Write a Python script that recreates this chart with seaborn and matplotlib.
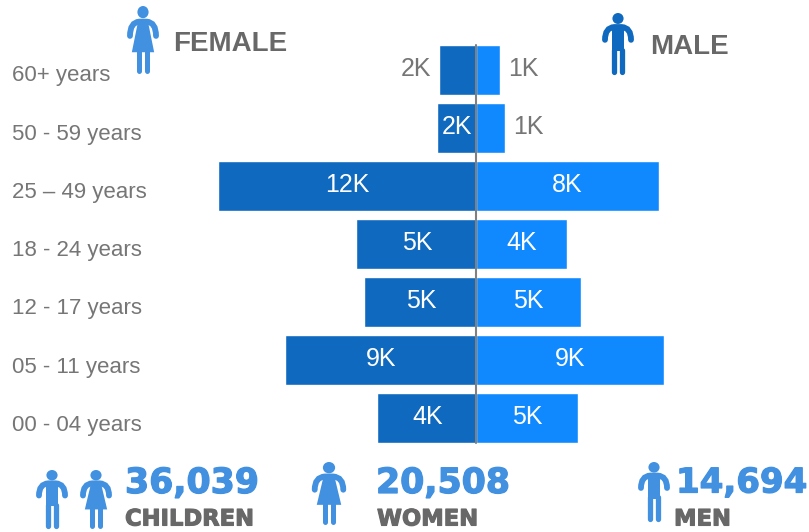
# Population pyramid by age group and sex
import pandas as pd
import matplotlib.pyplot as plt
import matplotlib.patches as mpatches
import matplotlib.patheffects as pe
from matplotlib.path import Path
import seaborn as sns

# Data
ages = ["60+ years", "50 - 59 years", "25 – 49 years", "18 - 24 years",
        "12 - 17 years", "05 - 11 years", "00 - 04 years"]
female = [1.66, 1.79, 11.75, 5.45, 5.1, 8.68, 4.5]
male = [1.09, 1.32, 8.3, 4.14, 4.77, 8.55, 4.63]
female_labels = ["2K", "2K", "12K", "5K", "5K", "9K", "4K"]
male_labels = ["1K", "1K", "8K", "4K", "5K", "9K", "5K"]
totals = ["36,039", "20,508", "14,694"]
total_names = ["CHILDREN", "WOMEN", "MEN"]

DARK = "#0F69BF"
BRIGHT = "#1089FF"
ICON = "#4290E0"
GREY = "#767676"
TITLE_GREY = "#686868"

sns.set_theme(style="white")
plt.rcParams["font.family"] = ["Liberation Sans", "DejaVu Sans"]

df = pd.DataFrame({
    "age": ages * 2,
    "value": [-v for v in female] + male,
    "sex": ["F"] * len(ages) + ["M"] * len(ages),
})

W, H = 809, 532
fig = plt.figure(figsize=(W / 100, H / 100), dpi=100)

# Chart axes fill the whole figure, limits chosen so zero sits on x=476
PX_PER_K = 22.0
ax = fig.add_axes([0, 0, 1, 1])
sns.barplot(data=df, x="value", y="age", hue="sex", order=ages, dodge=False,
            palette={"F": DARK, "M": BRIGHT}, saturation=1, width=50 / 58,
            legend=False, ax=ax)
ax.set_xlim(-476 / PX_PER_K, (W - 476) / PX_PER_K)
ax.set_ylim((H - 69.8) / 58, -69.8 / 58)
ax.axis("off")

# Centre line
ax.axvline(0, ymin=1 - 443 / H, ymax=1 - 45 / H, color="#808080", lw=1.5)


def bar_text(x, row, text, color, dx=0):
    ax.annotate(text, (x, row), xytext=(dx * 0.72, 0.4), textcoords="offset points",
                ha="center", va="center", fontsize=18, color=color)


for i in range(len(ages)):
    if i == 0:
        bar_text(-female[i], i, female_labels[i], GREY, -23)
    else:
        bar_text(-female[i] / 2, i, female_labels[i], "white", 1)
    if i < 2:
        bar_text(male[i], i, male_labels[i], GREY, 23)
    else:
        bar_text(male[i] / 2, i, male_labels[i], "white")

# Overlay in pixel coordinates for age labels, headings and icons
ov = fig.add_axes([0, 0, 1, 1], facecolor="none")
ov.set_xlim(0, W)
ov.set_ylim(H, 0)
ov.axis("off")

for i, age in enumerate(ages):
    ov.text(12, 76 + i * 58.2, age, fontsize=16, color=GREY, va="center", ha="left")

ov.text(173, 44, "FEMALE", fontsize=20, fontweight="bold", color=TITLE_GREY, va="center")
ov.text(650, 47, "MALE", fontsize=20, fontweight="bold", color=TITLE_GREY, va="center")


def person(cx, top, bottom, w, kind, color=ICON):
    h = bottom - top
    X = lambda u: cx + u * w
    Y = lambda v: top + v * h
    ov.add_patch(mpatches.Ellipse((cx, Y(0.09)), 0.36 * w, 0.18 * h, color=color, lw=0))
    arms = Path([(X(-0.42), Y(0.44)), (X(-0.42), Y(0.24)), (X(-0.12), Y(0.23)),
                 (X(0.12), Y(0.23)), (X(0.42), Y(0.24)), (X(0.42), Y(0.44))],
                [Path.MOVETO, Path.CURVE3, Path.CURVE3, Path.LINETO, Path.CURVE3, Path.CURVE3])
    ov.add_patch(mpatches.PathPatch(arms, fill=False, ec=color, lw=4.2, capstyle="round"))
    if kind == "f":
        ov.add_patch(mpatches.Polygon([(X(-0.16), Y(0.23)), (X(0.16), Y(0.23)),
                                       (X(0.36), Y(0.68)), (X(-0.36), Y(0.68))], color=color, lw=0))
        leg_x, leg_top, leg_w = 0.12, 0.66, 3.6
    else:
        ov.add_patch(mpatches.Polygon([(X(-0.2), Y(0.23)), (X(0.2), Y(0.23)),
                                       (X(0.2), Y(0.62)), (X(-0.2), Y(0.62))], color=color, lw=0))
        leg_x, leg_top, leg_w = 0.12, 0.6, 3.8
    for s in (-1, 1):
        ov.plot([X(s * leg_x)] * 2, [Y(leg_top), Y(0.96)], color=color, lw=leg_w,
                solid_capstyle="round")


person(143, 6, 74, 31, "f")
person(618, 13, 74, 31, "m", DARK)
person(52, 470, 528, 31, "m")
person(96, 470, 528, 31, "f")
person(329, 462, 525, 34, "f")
person(654, 462, 521, 31, "m")

# Totals along the bottom, stroke makes the bold look heavier
heavy = [pe.withStroke(linewidth=0.9, foreground=ICON)]
for x, num, size in zip([125, 376, 676], totals, [25, 25, 24.5]):
    ov.text(x, 483, num, fontsize=size, fontweight="bold", family="DejaVu Sans",
            color=ICON, va="center", ha="left", path_effects=heavy)

heavy_grey = [pe.withStroke(linewidth=0.8, foreground=TITLE_GREY)]
for x, name in zip([125, 377, 674], total_names):
    ov.text(x, 519, name, fontsize=16.3, fontweight="bold", family="DejaVu Sans",
            color=TITLE_GREY, va="center", ha="left", path_effects=heavy_grey)

fig.savefig("out.png", dpi=100)
